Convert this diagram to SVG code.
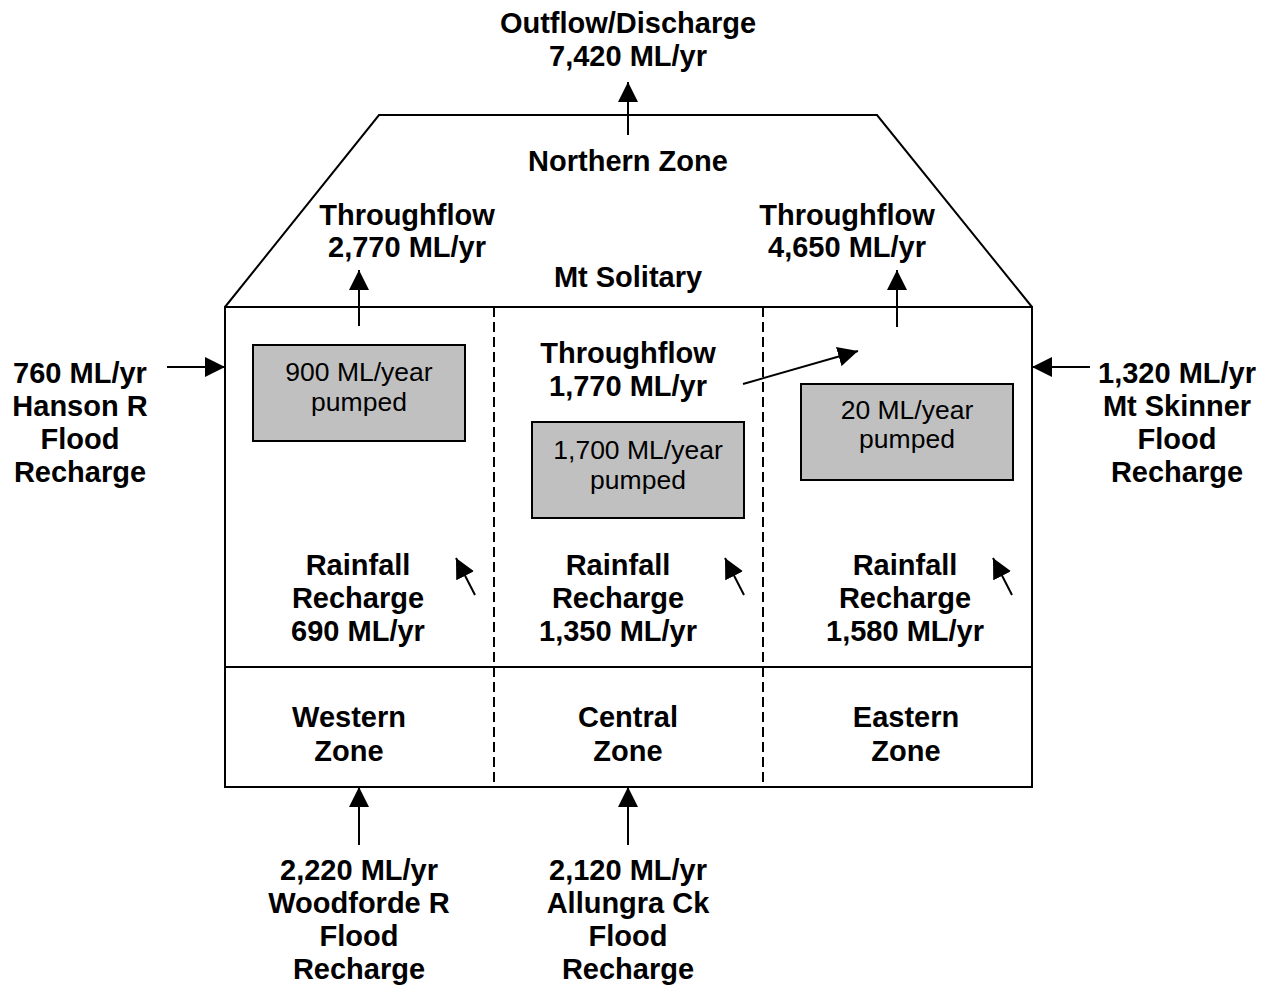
<svg xmlns="http://www.w3.org/2000/svg" width="1267" height="986" viewBox="0 0 1267 986">
<style>
.b{font-family:"Liberation Sans",Arial,sans-serif;font-weight:bold;font-size:29px;text-anchor:middle;fill:#000}
.r{font-family:"Liberation Sans",Arial,sans-serif;font-size:26.5px;text-anchor:middle;fill:#000}
.ln{stroke:#000;stroke-width:2;fill:none}
.dash{stroke:#000;stroke-width:2;stroke-dasharray:10,5;fill:none}
.box{fill:#c0c0c0;stroke:#000;stroke-width:2}
.ar{stroke:#000;stroke-width:2;fill:none;marker-end:url(#ah)}
</style>
<defs>
<marker id="ah" viewBox="0 0 10 10" refX="10" refY="5" markerWidth="20" markerHeight="20" markerUnits="userSpaceOnUse" orient="auto">
<path d="M0,0 L10,5 L0,10 Z" fill="#000"/>
</marker>
</defs>
<rect width="1267" height="986" fill="#fff"/>
<g id="basin">
<path class="ln" d="M225,307 L379,115 L877,115 L1032,307"/>
<rect class="ln" x="225" y="307" width="807" height="480"/>
<line class="ln" x1="225" y1="667" x2="1032" y2="667"/>
<line class="dash" x1="494" y1="307" x2="494" y2="787"/>
<line class="dash" x1="763" y1="307" x2="763" y2="787"/>
</g>
<g id="outflow">
<text class="b" x="628" y="33">Outflow/Discharge</text>
<text class="b" x="628" y="66">7,420 ML/yr</text>
</g>
<g id="northern"><text class="b" x="628" y="171">Northern Zone</text></g>
<g id="through-west">
<text class="b" x="407" y="225">Throughflow</text>
<text class="b" x="407" y="257">2,770 ML/yr</text>
</g>
<g id="through-east">
<text class="b" x="847" y="225">Throughflow</text>
<text class="b" x="847" y="257">4,650 ML/yr</text>
</g>
<g id="mtsolitary"><text class="b" x="628" y="287">Mt Solitary</text></g>
<g id="through-central">
<text class="b" x="628" y="363">Throughflow</text>
<text class="b" x="628" y="396">1,770 ML/yr</text>
</g>
<g id="hanson">
<text class="b" x="80" y="383">760 ML/yr</text>
<text class="b" x="80" y="416">Hanson R</text>
<text class="b" x="80" y="449">Flood</text>
<text class="b" x="80" y="482">Recharge</text>
</g>
<g id="skinner">
<text class="b" x="1177" y="383">1,320 ML/yr</text>
<text class="b" x="1177" y="416">Mt Skinner</text>
<text class="b" x="1177" y="449">Flood</text>
<text class="b" x="1177" y="482">Recharge</text>
</g>
<g id="pump-west">
<rect class="box" x="253" y="345" width="212" height="96"/>
<text class="r" x="359" y="381">900 ML/year</text>
<text class="r" x="359" y="411">pumped</text>
</g>
<g id="pump-central">
<rect class="box" x="532" y="422" width="212" height="96"/>
<text class="r" x="638" y="459">1,700 ML/year</text>
<text class="r" x="638" y="489">pumped</text>
</g>
<g id="pump-east">
<rect class="box" x="801" y="384" width="212" height="96"/>
<text class="r" x="907" y="419">20 ML/year</text>
<text class="r" x="907" y="448">pumped</text>
</g>
<g id="rain-west">
<text class="b" x="358" y="575">Rainfall</text>
<text class="b" x="358" y="608">Recharge</text>
<text class="b" x="358" y="641">690 ML/yr</text>
</g>
<g id="rain-central">
<text class="b" x="618" y="575">Rainfall</text>
<text class="b" x="618" y="608">Recharge</text>
<text class="b" x="618" y="641">1,350 ML/yr</text>
</g>
<g id="rain-east">
<text class="b" x="905" y="575">Rainfall</text>
<text class="b" x="905" y="608">Recharge</text>
<text class="b" x="905" y="641">1,580 ML/yr</text>
</g>
<g id="western"><text class="b" x="349" y="727">Western</text><text class="b" x="349" y="761">Zone</text></g>
<g id="central"><text class="b" x="628" y="727">Central</text><text class="b" x="628" y="761">Zone</text></g>
<g id="eastern"><text class="b" x="906" y="727">Eastern</text><text class="b" x="906" y="761">Zone</text></g>
<g id="woodforde">
<text class="b" x="359" y="880">2,220 ML/yr</text>
<text class="b" x="359" y="913">Woodforde R</text>
<text class="b" x="359" y="946">Flood</text>
<text class="b" x="359" y="979">Recharge</text>
</g>
<g id="allungra">
<text class="b" x="628" y="880">2,120 ML/yr</text>
<text class="b" x="628" y="913">Allungra Ck</text>
<text class="b" x="628" y="946">Flood</text>
<text class="b" x="628" y="979">Recharge</text>
</g>
<g id="connectors">
<line class="ar" x1="628" y1="135" x2="628" y2="82"/>
<line class="ar" x1="359" y1="326" x2="359" y2="270"/>
<line class="ar" x1="897" y1="327" x2="897" y2="270"/>
<line class="ar" x1="743" y1="384" x2="858" y2="351"/>
<line class="ar" x1="167" y1="367" x2="225" y2="367"/>
<line class="ar" x1="1090" y1="367" x2="1032" y2="367"/>
<line class="ar" x1="475" y1="595" x2="456" y2="558"/>
<line class="ar" x1="744" y1="595" x2="725" y2="558"/>
<line class="ar" x1="1012" y1="595" x2="993" y2="558"/>
<line class="ar" x1="359" y1="845" x2="359" y2="787"/>
<line class="ar" x1="628" y1="845" x2="628" y2="787"/>
</g>
</svg>
